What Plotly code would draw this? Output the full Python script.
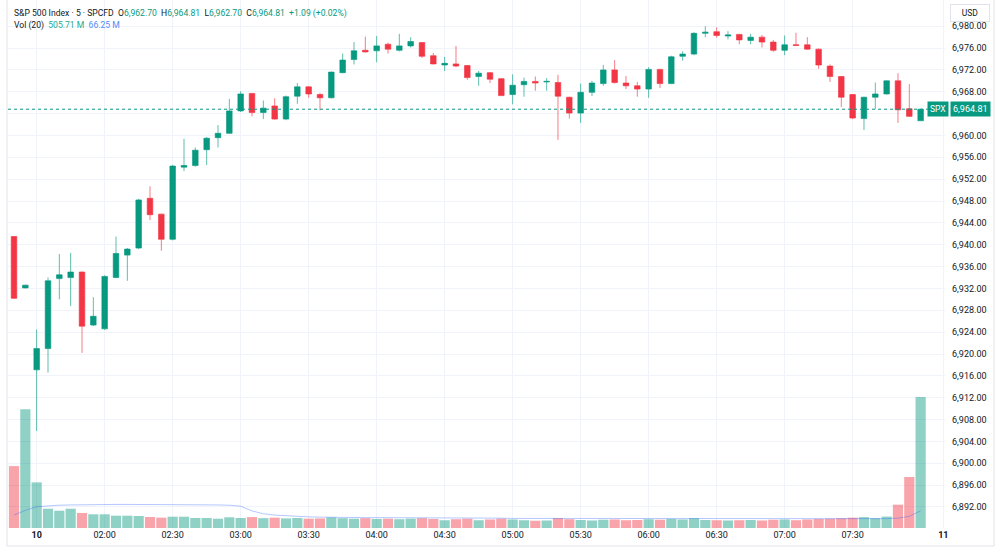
import plotly.graph_objects as go

# ---- data (SPX, 5-minute bars) ----
opens = [6941.5, 6932.1, 6917.1, 6921.0, 6933.8, 6934.0, 6935.0, 6925.3, 6924.6, 6934.0,
         6938.1, 6939.4, 6948.5, 6945.6, 6941.0, 6954.2, 6954.5, 6957.4, 6959.6, 6960.4,
         6964.5, 6967.7, 6964.2, 6965.4, 6963.0, 6967.2, 6968.9, 6967.5, 6966.9, 6971.5,
         6973.9, 6975.6, 6975.5, 6976.7, 6975.6, 6976.4, 6977.0, 6974.6, 6972.9, 6973.1,
         6972.8, 6970.8, 6971.5, 6970.4, 6967.5, 6969.3, 6969.9, 6969.8, 6969.7, 6967.0,
         6964.1, 6967.9, 6969.5, 6972.0, 6969.6, 6969.1, 6968.5, 6972.1, 6969.5, 6974.5,
         6974.9, 6978.7, 6979.0, 6978.2, 6978.5, 6977.4, 6978.0, 6977.1, 6975.6, 6976.6,
         6976.6, 6975.8, 6972.7, 6970.8, 6967.5, 6963.1, 6967.0, 6967.6, 6970.0, 6964.9,
         6962.70]
highs = [6941.6, 6932.7, 6924.5, 6934.0, 6938.3, 6938.5, 6935.1, 6930.4, 6934.4, 6941.5,
         6939.4, 6948.4, 6950.7, 6945.7, 6954.6, 6959.4, 6957.8, 6959.7, 6961.9, 6966.7,
         6968.1, 6967.8, 6966.4, 6966.8, 6967.3, 6969.6, 6969.0, 6967.8, 6971.7, 6975.0,
         6977.1, 6978.1, 6978.2, 6977.0, 6978.6, 6978.0, 6977.1, 6975.1, 6974.4, 6976.4,
         6972.9, 6971.8, 6971.6, 6970.5, 6971.2, 6970.6, 6970.8, 6970.5, 6971.1, 6967.1,
         6969.5, 6970.0, 6972.9, 6973.8, 6970.9, 6969.8, 6972.5, 6972.2, 6974.6, 6975.4,
         6978.9, 6980.0, 6979.8, 6979.1, 6978.6, 6978.6, 6978.4, 6977.5, 6978.3, 6978.8,
         6978.0, 6975.9, 6973.0, 6970.9, 6967.6, 6967.1, 6969.7, 6970.1, 6971.4, 6969.4,
         6964.81]
lows = [6930.1, 6932.0, 6905.9, 6916.6, 6930.0, 6928.8, 6920.2, 6925.1, 6924.4, 6933.9,
        6933.4, 6939.2, 6944.5, 6938.9, 6940.8, 6953.5, 6954.3, 6954.6, 6957.8, 6960.3,
        6964.3, 6963.5, 6963.0, 6962.9, 6962.8, 6965.8, 6966.9, 6964.6, 6966.8, 6971.4,
        6973.0, 6975.2, 6973.4, 6975.0, 6975.4, 6976.1, 6974.2, 6973.0, 6971.8, 6972.5,
        6970.2, 6969.1, 6969.6, 6967.2, 6965.7, 6967.1, 6968.2, 6968.2, 6959.2, 6963.1,
        6962.3, 6967.2, 6969.1, 6969.5, 6968.5, 6967.1, 6966.9, 6968.7, 6969.4, 6973.7,
        6974.7, 6978.0, 6977.9, 6977.6, 6976.7, 6976.7, 6976.1, 6975.3, 6974.7, 6976.4,
        6975.7, 6972.2, 6969.8, 6965.2, 6963.0, 6961.0, 6964.8, 6967.5, 6962.3, 6963.4,
        6962.70]
closes = [6930.2, 6932.6, 6921.0, 6933.4, 6934.5, 6935.0, 6925.1, 6926.9, 6934.2, 6938.4,
          6939.2, 6948.2, 6945.5, 6941.0, 6954.4, 6954.5, 6957.3, 6959.5, 6960.4, 6964.5,
          6967.6, 6964.2, 6965.0, 6963.0, 6967.1, 6968.9, 6967.6, 6966.9, 6971.6, 6973.8,
          6975.5, 6975.3, 6976.4, 6975.8, 6976.4, 6977.2, 6974.5, 6973.1, 6973.2, 6972.7,
          6970.6, 6971.4, 6970.3, 6967.3, 6969.2, 6969.9, 6969.6, 6969.9, 6967.2, 6964.1,
          6967.9, 6969.6, 6972.0, 6969.7, 6969.1, 6968.5, 6972.1, 6969.5, 6974.4, 6974.9,
          6978.7, 6978.9, 6978.3, 6978.4, 6977.5, 6978.0, 6977.1, 6975.6, 6976.6, 6976.5,
          6975.8, 6972.9, 6970.8, 6967.0, 6963.2, 6967.0, 6967.6, 6970.0, 6964.7, 6963.5,
          6964.81]
volumes_m = [239, 458, 176, 74.5, 66.8, 74.5, 57.9, 52.9, 52.9, 47.5,
             47.5, 46.3, 42.5, 39.8, 43.6, 43.6, 38.6, 38.6, 35.9, 41.3,
             38.6, 42, 38, 40, 37, 39, 36, 37, 41, 38,
             36, 38, 35, 36, 34, 36, 38, 35, 30, 34,
             36, 30, 33, 36, 33, 30, 28, 29, 38, 34,
             31, 29, 32, 33, 30, 31, 34, 32, 35, 33,
             38, 31, 30, 29, 30, 31, 29, 32, 33, 30,
             33, 35, 36, 38, 40, 42, 38, 44, 90, 197,
             505.71]
vol_ma_m = [50, 68, 82, 86, 88, 89, 90, 90, 91, 91,
            91, 91, 91, 91, 91, 91, 90, 90, 89, 88,
            84, 66, 55, 50, 47, 45, 43, 42, 41, 40,
            40, 40, 40, 40, 40, 39, 39, 39, 39, 39,
            38, 38, 38, 38, 37, 37, 37, 37, 37, 37,
            37, 36, 36, 36, 36, 36, 36, 36, 36, 36,
            36, 35, 35, 35, 35, 35, 35, 35, 35, 35,
            35, 35, 35, 35, 35, 35, 35, 36, 38, 45,
            66.25]
tick_idx = [2, 8, 14, 20, 26, 32, 38, 44, 50, 56, 62, 68, 74, 82]
tick_text = ["<b>10</b>", "02:00", "02:30", "03:00", "03:30", "04:00", "04:30",
             "05:00", "05:30", "06:00", "06:30", "07:00", "07:30", "<b>11</b>"]
price_ticks = [6892, 6896, 6900, 6904, 6908, 6912, 6916, 6920, 6924, 6928, 6932, 6936,
               6940, 6944, 6948, 6952, 6956, 6960, 6964, 6968, 6972, 6976, 6980]
last_price = 6964.81

UP = "#089981"
DOWN = "#F23645"
FONT = "Roboto"
TXT = "#131722"

x = list(range(len(opens)))
vol_colors = ["rgba(8,153,129,0.45)" if c > o else "rgba(242,54,69,0.45)"
              for o, c in zip(opens, closes)]
# the 6,964.00 label sits under the last-price tag in the reference
price_text = ["" if abs(v - last_price) < 2.5 else f"{v:,.2f}" for v in price_ticks]

fig = go.Figure()
fig.add_trace(go.Bar(
    x=x, y=volumes_m, marker=dict(color=vol_colors, line=dict(width=0)),
    yaxis="y2", hoverinfo="skip"))
fig.add_trace(go.Scatter(
    x=x, y=vol_ma_m, mode="lines", line=dict(color="rgba(41,98,255,0.35)", width=1),
    yaxis="y2", hoverinfo="skip"))
fig.add_trace(go.Candlestick(
    x=x, open=opens, high=highs, low=lows, close=closes,
    increasing=dict(fillcolor=UP, line=dict(color="rgba(8,153,129,0.65)", width=1)),
    decreasing=dict(fillcolor=DOWN, line=dict(color="rgba(242,54,69,0.65)", width=1)),
    yaxis="y"))

W, H = 1000, 552
ml, mr, mt, mb = 8, 55, 0, 24
pw, ph = W - ml - mr, H - mt - mb

def px(xp):
    return (xp - ml) / pw

def py(yp):
    return 1 - (yp - mt) / ph

fig.update_layout(
    width=W, height=H,
    margin=dict(l=ml, r=mr, t=mt, b=mb),
    paper_bgcolor="white", plot_bgcolor="white",
    showlegend=False, bargap=0.1, boxgap=0.3,
    font=dict(family=FONT, size=9, color=TXT),
    xaxis=dict(range=[-0.53, 82.15], tickvals=tick_idx, ticktext=tick_text,
               showgrid=True, gridcolor="#f0f3fa", gridwidth=1, zeroline=False,
               showline=False, ticks="", rangeslider=dict(visible=False),
               tickfont=dict(size=9, color=TXT, family=FONT)),
    yaxis=dict(range=[6888.15, 6984.8], side="right", tickvals=price_ticks,
               ticktext=price_text, showgrid=True, gridcolor="#f0f3fa", gridwidth=1,
               zeroline=False, showline=False, ticks="", ticklabelstandoff=6,
               tickfont=dict(size=9, color=TXT, family=FONT)),
    yaxis2=dict(range=[0, 2038], overlaying="y", visible=False, showgrid=False),
)

# last price dotted line
fig.add_shape(type="line", xref="paper", yref="y", x0=0, x1=1,
              y0=last_price, y1=last_price,
              line=dict(color=UP, width=1, dash="dot"))

# frame lines
frame = "#e0e3eb"
fig.add_shape(type="line", xref="paper", yref="paper", x0=px(7), x1=px(7),
              y0=py(546), y1=1, line=dict(color=frame, width=1))
fig.add_shape(type="line", xref="paper", yref="paper", x0=px(7), x1=px(994),
              y0=py(546), y1=py(546), line=dict(color=frame, width=1))
fig.add_shape(type="line", xref="paper", yref="paper", x0=px(994), x1=px(994),
              y0=py(546), y1=1, line=dict(color=frame, width=1))

# price tags
fig.add_annotation(xref="paper", yref="y", x=px(938), y=last_price, text="SPX",
                   showarrow=False, bgcolor=UP, font=dict(color="white", size=8.5, family=FONT),
                   borderpad=2, xanchor="center", yanchor="middle")
fig.add_annotation(xref="paper", yref="y", x=px(970), y=last_price, text="6,964.81",
                   showarrow=False, bgcolor=UP, font=dict(color="white", size=9, family=FONT),
                   borderpad=2, xanchor="center", yanchor="middle")
fig.add_annotation(xref="paper", yref="paper", x=px(970), y=py(13), text="USD",
                   showarrow=False, bgcolor="white", bordercolor=frame, borderwidth=1,
                   font=dict(color=TXT, size=8.5, family=FONT), borderpad=2,
                   width=34, height=12, xanchor="center", yanchor="middle")

# legend lines
sp = "\u00a0"
t = lambda s: f'<span style="color:{UP}">{s}</span>'
line1 = ("S&amp;P 500 Index · 5 · SPCFD" + sp * 2 + "O" + t("6,962.70") + sp * 2 + "H" + t("6,964.81")
         + sp * 2 + "L" + t("6,962.70") + sp * 2 + "C" + t("6,964.81") + sp * 2
         + t("+1.09 (+0.02%)"))
line2 = ("Vol (20)" + sp * 2 + f'<span style="color:#22ab94">505.71{sp}M</span>' + sp * 2
         + f'<span style="color:#4d8ef7">66.25{sp}M</span>')
fig.add_annotation(xref="paper", yref="paper", x=px(12), y=py(13), text=line1,
                   showarrow=False, xanchor="left", yanchor="middle",
                   font=dict(color=TXT, size=8.6, family=FONT))
fig.add_annotation(xref="paper", yref="paper", x=px(12), y=py(26), text=line2,
                   showarrow=False, xanchor="left", yanchor="middle",
                   font=dict(color=TXT, size=8.6, family=FONT))

fig.write_html("out.html")
